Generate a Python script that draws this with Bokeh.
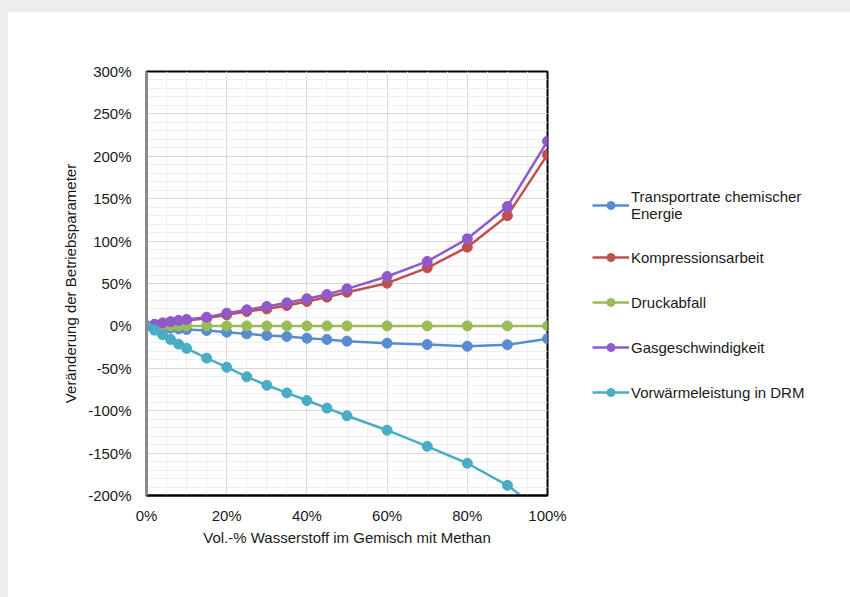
from bokeh.plotting import figure
from bokeh.models import (Range1d, FixedTicker, Legend, LegendItem, ColumnDataSource)
from bokeh.embed import file_html
from bokeh.resources import INLINE

# ---- data ----
h2_share = [0, 2, 4, 6, 8, 10, 15, 20, 25, 30, 35, 40, 45, 50, 60, 70, 80, 90, 100]

transportrate = [0, -1, -2, -2.8, -3.5, -4.2, -5.4, -7.4, -9.4, -11.3, -12.5, -14.5, -16, -18,
                 -20.4, -22, -24, -22.3, -15.2]
kompression = [0, 1.5, 3, 4.5, 5.5, 6.5, 9.1, 13, 17, 20, 24, 28.8, 33.9, 39.7,
               50.4, 68.5, 92.8, 130, 202]
druckabfall = [0] * 19
gasgeschw = [0, 2, 3.5, 5, 6.5, 7.5, 10.3, 15, 19, 22.9, 27.2, 32, 37, 43.7,
             58.3, 76, 102.7, 140.8, 217.8]
vorwaerme = [0, -5, -10.5, -16, -21.5, -26.5, -38, -48.7, -60, -70, -79, -88, -97, -106,
             -123, -142, -162, -188, -224]

series_names = ["Transportrate chemischer\nEnergie", "Kompressionsarbeit", "Druckabfall",
                "Gasgeschwindigkeit", "Vorwärmeleistung in DRM"]
series_values = [transportrate, kompression, druckabfall, gasgeschw, vorwaerme]
series_colors = ["#578DCF", "#C0504D", "#9BBB59", "#9159CA", "#4BACC6"]

x_ticks = [0, 20, 40, 60, 80, 100]
x_tick_labels = ["0%", "20%", "40%", "60%", "80%", "100%"]
y_ticks = [-200, -150, -100, -50, 0, 50, 100, 150, 200, 250, 300]
y_tick_labels = ["-200%", "-150%", "-100%", "-50%", "0%", "50%", "100%", "150%",
                 "200%", "250%", "300%"]
x_minor = list(range(0, 101, 5))
y_minor = list(range(-200, 301, 10))

x_title = "Vol.-% Wasserstoff im Gemisch mit Methan"
y_title = "Veränderung der Betriebsparameter"

FONT = "Liberation Sans"
FS = "15px"
TXT = "#1a1a1a"

p = figure(frame_width=401, frame_height=424, output_backend="svg", toolbar_location=None,
           x_range=Range1d(0, 100), y_range=Range1d(-200, 300),
           min_border_left=146, min_border_top=71, min_border_bottom=100, min_border_right=0)
p.border_fill_color = None
p.background_fill_color = "white"
p.outline_line_color = "black"
p.outline_line_width = 2

# axes
p.xaxis.ticker = FixedTicker(ticks=x_ticks, minor_ticks=x_minor)
p.yaxis.ticker = FixedTicker(ticks=y_ticks, minor_ticks=y_minor)
p.xaxis.major_label_overrides = dict(zip(x_ticks, x_tick_labels))
p.yaxis.major_label_overrides = dict(zip(y_ticks, y_tick_labels))
for ax in (p.xaxis, p.yaxis):
    ax.major_tick_line_color = None
    ax.minor_tick_line_color = None
    ax.major_label_text_font = FONT
    ax.major_label_text_font_size = FS
    ax.major_label_text_color = TXT
    ax.axis_label_text_font = FONT
    ax.axis_label_text_font_size = FS
    ax.axis_label_text_font_style = "normal"
    ax.axis_label_text_color = TXT
p.xaxis.axis_label = x_title
p.yaxis.axis_label = y_title
p.xaxis.axis_line_color = "black"
p.xaxis.axis_line_width = 2
p.yaxis.axis_line_color = "#8a8a8a"
p.yaxis.axis_line_width = 3
p.xaxis.major_label_standoff = 5
p.yaxis.major_label_standoff = 9
p.xaxis.axis_label_standoff = 2
p.yaxis.axis_label_standoff = 6

# grid
p.xgrid.grid_line_color = "#d9d9d9"
p.ygrid.grid_line_color = "#d9d9d9"
p.xgrid.minor_grid_line_color = "#efefef"
p.ygrid.minor_grid_line_color = "#efefef"

items = []
for name, vals, col in zip(series_names, series_values, series_colors):
    src = ColumnDataSource(dict(x=h2_share, y=vals))
    lr = p.line("x", "y", source=src, line_color=col, line_width=2.5)
    sr = p.scatter("x", "y", source=src, size=10, fill_color=col, line_color=col)
    items.append(LegendItem(label=name, renderers=[lr, sr]))

legend = Legend(items=items, location=(45, 93), padding=0, margin=45,
                spacing=25, glyph_width=37, glyph_height=20, label_height=20,
                label_standoff=2, border_line_color=None, background_fill_alpha=0,
                label_text_font=FONT, label_text_font_size=FS, label_text_color=TXT,
                label_text_line_height=1.15)
p.add_layout(legend, "right")

html = file_html(p, INLINE)
style = ("<style>html{background:linear-gradient(to bottom,#eceeed 12px,rgba(0,0,0,0) 12px),"
         "linear-gradient(to right,#eceeed 8px,#ffffff 8px);}</style>")
html = html.replace("</head>", style + "</head>", 1)
open("out.html", "w").write(html)
